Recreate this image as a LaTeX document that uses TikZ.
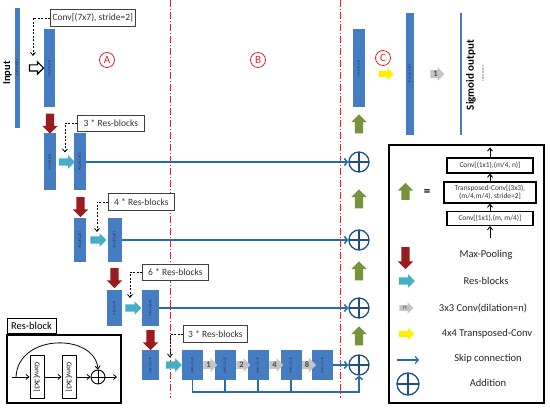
\documentclass[tikz,border=0pt]{standalone}
\usepackage{fontspec}
\setmainfont{Carlito}
\usepackage{graphicx}
\usetikzlibrary{shapes.arrows,arrows.meta}
\definecolor{barblue}{RGB}{70,124,194}
\definecolor{bartxt}{RGB}{20,30,60}
\definecolor{skipblue}{RGB}{40,105,180}
\definecolor{plusblue}{RGB}{31,78,130}
\definecolor{poolred}{RGB}{155,28,32}
\definecolor{rbcyan}{RGB}{70,174,200}
\definecolor{upgreen}{RGB}{119,147,60}
\definecolor{dilgray}{RGB}{196,196,196}
\definecolor{tyellow}{RGB}{255,240,0}
\definecolor{secred}{RGB}{230,30,40}
\definecolor{lblgray}{RGB}{64,64,64}
\newcommand\vtxt[1]{\rotatebox{-90}{\fontsize{3}{3}\selectfont\textcolor{bartxt}{#1}}}
\tikzset{
  bar/.style={fill=barblue, inner sep=0pt},
  blk/.style={single arrow, draw=none, inner xsep=0pt, single arrow head extend=3.5pt, single arrow tip angle=90},
  pool/.style={blk, fill=poolred, inner ysep=4pt, minimum height=20pt, rotate=-90},
  res/.style={blk, fill=rbcyan, inner ysep=3.5pt, single arrow head extend=3pt, minimum height=16pt},
  up/.style={blk, fill=upgreen, inner ysep=4pt, minimum height=19pt, rotate=90},
  tconv/.style={blk, fill=tyellow, inner ysep=3pt, single arrow head extend=3pt, minimum height=15pt},
  dil/.style={blk, fill=dilgray, inner ysep=1pt, inner xsep=0.5pt, single arrow head extend=3pt, minimum height=14pt, font=\fontsize{8.5}{8.5}\selectfont\bfseries, text=black!70},
  lbl/.style={draw=lblgray, line width=0.7pt, fill=white, font=\fontsize{9.5}{10}\selectfont, text=black!80, inner xsep=2pt, minimum height=16.5pt, anchor=west},
  lead/.style={dash pattern=on 2pt off 1.5pt, line width=0.8pt, -{Straight Barb[length=3pt,width=5pt]}},
  skip/.style={draw=skipblue, line width=1.5pt},
  skipar/.style={skip, -{Straight Barb[length=3pt,width=7pt]}},
  plus/.style={circle, draw=plusblue, line width=1.3pt, minimum size=20pt, inner sep=0pt,
    path picture={\draw[plusblue, line width=1.3pt] (path picture bounding box.north) -- (path picture bounding box.south) (path picture bounding box.west) -- (path picture bounding box.east);}},
  pluss/.style={circle, draw=black, line width=0.9pt, minimum size=14pt, inner sep=0pt,
    path picture={\draw[black, line width=0.9pt] (path picture bounding box.north) -- (path picture bounding box.south) (path picture bounding box.west) -- (path picture bounding box.east);}},
  sect/.style={draw=secred, dash pattern=on 7pt off 2pt on 1pt off 2pt, line width=0.9pt},
  secl/.style={circle, draw=secred, text=secred, line width=0.8pt, minimum size=15pt, inner sep=0pt, font=\fontsize{11}{11}\selectfont},
  leg/.style={font=\fontsize{10.5}{12}\selectfont, text=black!85},
  ibox/.style={draw=black, line width=1.3pt, fill=white, inner sep=1pt, font=\fontsize{7.4}{8.6}\selectfont, align=center, text=black!80},
  iarr/.style={line width=0.9pt, -{Straight Barb[length=3pt,width=5pt]}},
  rarr/.style={line width=0.8pt, -{Straight Barb[length=3pt,width=5pt]}},
}
\begin{document}
\begin{tikzpicture}[x=1pt,y=-1pt]
\useasboundingbox (0,0) rectangle (550,411);
\fill[white] (0,0) rectangle (550,411);

% section lines
\coordinate (sA1) at (170,0); \coordinate (sA2) at (170,398);
\coordinate (sB1) at (340,0); \coordinate (sB2) at (340,398);
\draw[sect] (sA1) -- (sA2);
\draw[sect] (sB1) -- (sB2);
\node[secl] (A) at (107,60) {A};
\node[secl] (B) at (258,60) {B};
\node[secl] (C) at (383,58) {C};

% input
\node[bar, minimum width=5pt, minimum height=120pt] (inp) at (17,68) {\vtxt{1024*1024*3}};
\node[font=\fontsize{10.5}{11}\selectfont\bfseries, rotate=90] (inlbl) at (7.5,73) {Input};
\node[blk, fill=white, draw=black, line width=1.1pt, inner ysep=2.5pt, single arrow head extend=3pt, minimum height=14pt] (inar) at (35,68) {};

% conv
\node[bar, minimum width=11pt, minimum height=78pt] (conv) at (49.5,68) {\vtxt{512*512*64}};
\node[lbl, minimum width=85pt] (convl) at (50,18) {Conv[(7x7), stride=2]};
\coordinate (convt) at (33,56);
\draw[lead] (convl.west) -| (convt);
\node[pool] (mp0) at (50,121.5) {};

% level 1
\node[bar, minimum width=12pt, minimum height=57pt] (b1) at (50,162) {\vtxt{256*256*64}};
\node[bar, minimum width=12pt, minimum height=57pt] (b2) at (80,162) {\vtxt{256*256*256}};
\node[res] (r1) at (65,162) {};
\node[lbl, minimum width=67pt] (l1) at (77,123.5) {3 * Res-blocks};
\coordinate (l1t) at (65,152.5);
\draw[lead] (l1.west) -| (l1t);
\node[pool] (mp1) at (80.5,205) {};

% level 2
\node[bar, minimum width=12pt, minimum height=44pt] (b3) at (80,240) {\vtxt{128*128*256}};
\node[bar, minimum width=14pt, minimum height=44pt] (b4) at (114.5,240) {\vtxt{128*128*512}};
\node[res] (r2) at (96.5,240) {};
\node[lbl, minimum width=66pt] (l2) at (108,202) {4 * Res-blocks};
\coordinate (l2t) at (97,232);
\draw[lead] (l2.west) -| (l2t);
\node[pool] (mp2) at (114.5,276) {};

% level 3
\node[bar, minimum width=15pt, minimum height=36pt] (b5) at (114.5,308) {\vtxt{64*64*512}};
\node[bar, minimum width=17pt, minimum height=36pt] (b6) at (150.5,308) {\vtxt{64*64*1024}};
\node[res] (r3) at (131.5,308) {};
\node[lbl, minimum width=66pt] (l3) at (142,272.5) {6 * Res-blocks};
\coordinate (l3t) at (130,298);
\draw[lead] (l3.west) -| (l3t);
\node[pool] (mp3) at (150.5,338) {};

% level 4
\node[bar, minimum width=17pt, minimum height=30pt] (b7) at (150.5,365) {\vtxt{32*32*1024}};
\node[res] (r4) at (172,365) {};
\node[lbl, minimum width=64pt] (l4) at (183,334) {3 * Res-blocks};
\coordinate (l4t) at (170,357.5);
\draw[lead] (l4.west) -| (l4t);
\node[bar, minimum width=21pt, minimum height=30pt] (b8) at (192.5,365) {\vtxt{32*32*2048}};
\node[bar, minimum width=21pt, minimum height=30pt] (b9) at (225,365) {\vtxt{32*32*2048}};
\node[bar, minimum width=21pt, minimum height=30pt] (b10) at (258,365) {\vtxt{32*32*2048}};
\node[bar, minimum width=21pt, minimum height=30pt] (b11) at (291,365) {\vtxt{32*32*2048}};
\node[bar, minimum width=21pt, minimum height=30pt] (b12) at (322.5,365) {\vtxt{32*32*2048}};
\node[dil] (d1) at (208.5,365) {1};
\node[dil] (d2) at (241.5,365) {2};
\node[dil] (d3) at (274.5,365) {4};
\node[dil] (d4) at (307,365) {8};

% right column
\node[bar, minimum width=12pt, minimum height=78pt] (tb) at (359,68) {\vtxt{512*512*64}};
\node[up] (g1) at (359,126) {};
\node[up] (g2) at (359,201) {};
\node[up] (g3) at (359,273) {};
\node[up] (g4) at (359,338) {};
\node[plus] (p1) at (359,162) {};
\node[plus] (p2) at (359,240) {};
\node[plus] (p3) at (359,308) {};
\node[plus] (p4) at (359,365) {};

\draw[skipar] (b2.east) -- (p1.west);
\draw[skipar] (b4.east) -- (p2.west);
\draw[skipar] (b6.east) -- (p3.west);
\draw[skipar] (b12.east) -- (p4.west);
\draw[skipar] (b8.south) -- ++(0,12) -| (p4.south);
\draw[skip] (b9.south) -- ++(0,12);
\draw[skip] (b10.south) -- ++(0,12);
\draw[skip] (b11.south) -- ++(0,12);

% output
\node[tconv] (yc) at (384.5,74) {};
\node[bar, minimum width=8pt, minimum height=122pt] (ob) at (410,74) {\vtxt{1024*1024*32}};
\node[dil] (dg) at (435.5,74) {1};
\node[bar, minimum width=2.5pt, minimum height=122pt] (sb) at (461,74) {};
\node[font=\fontsize{11}{12}\selectfont\bfseries, rotate=90] (sig) at (471,75) {Sigmoid output};
\node[font=\fontsize{3}{3}\selectfont, rotate=90, text=black!70] (sigs) at (483,73) {1024*1024*1};

% res-block inset
\node[draw=black, line width=0.9pt, minimum width=49pt, minimum height=15pt, inner sep=0pt, font=\fontsize{10.5}{11}\selectfont] (rbl) at (31.5,325.5) {Res-block};
\node[draw=black, line width=1.2pt, minimum width=114pt, minimum height=68pt] (rbox) at (64,369) {};
\node[draw=black, line width=0.9pt, minimum width=14pt, minimum height=43pt, inner sep=0pt] (c1) at (37,377) {\rotatebox{-90}{\fontsize{7.3}{8}\selectfont Conv[3x3]}};
\node[draw=black, line width=0.9pt, minimum width=14pt, minimum height=43pt, inner sep=0pt] (c2) at (69,377) {\rotatebox{-90}{\fontsize{7.3}{8}\selectfont Conv[3x3]}};
\node[pluss] (rp) at (98,377) {};
\coordinate (rin) at (12,377);
\coordinate (rsp) at (16,377);
\coordinate (rout) at (117,377);
\draw[rarr] (rin) -- (c1.west);
\draw[rarr] (c1.east) -- (c2.west);
\draw[rarr] (c2.east) -- (rp.west);
\draw[rarr] (rp.east) -- (rout);
\draw[rarr] (rsp) .. controls (18,333) and (95,333) .. (rp.north);

% legend
\node[draw=black, line width=1.3pt, minimum width=155pt, minimum height=258pt] (legend) at (466.5,274) {};
\node[ibox, minimum width=86pt, minimum height=15pt] (ib3) at (490,165.5) {Conv[(1x1),(m/4, n)]};
\node[ibox, minimum width=92pt, minimum height=21pt] (ib2) at (490,192.5) {Transposed-Conv[(3x3),\\(m/4,m/4), stride=2]};
\node[ibox, minimum width=86pt, minimum height=14pt] (ib1) at (490,218.5) {Conv[(1x1),(m, m/4)]};
\coordinate (ibin) at (490,238);
\coordinate (ibout) at (490,147.5);
\draw[iarr] (ibin) -- (ib1.south);
\draw[iarr] (ib1.north) -- (ib2.south);
\draw[iarr] (ib2.north) -- (ib3.south);
\draw[iarr] (ib3.north) -- (ibout);
\node[up, minimum height=17pt] (lg) at (405.5,193.5) {};
\node[font=\fontsize{13}{13}\selectfont\bfseries] (eq) at (427,193) {=};
\node[pool, minimum height=22pt] (lmp) at (405.5,256) {};
\node[leg] (t1) at (486,255) {Max-Pooling};
\node[res] (lres) at (405,281) {};
\node[leg] (t2) at (486,281) {Res-blocks};
\node[dil, font=\fontsize{7}{7}\selectfont] (ldil) at (405,308) {n};
\node[leg] (t3) at (483,308) {3x3 Conv(dilation=n)};
\node[tconv] (ltc) at (405,334) {};
\node[leg] (t4) at (487,334) {4x4 Transposed-Conv};
\coordinate (ls1) at (397,360);
\coordinate (ls2) at (419,360);
\draw[skipar, line width=1.2pt] (ls1) -- (ls2);
\node[leg] (t5) at (488,359) {Skip connection};
\node[plus, minimum size=22pt] (lplus) at (408,384) {};
\node[leg] (t6) at (488,383) {Addition};
\end{tikzpicture}
\end{document}
